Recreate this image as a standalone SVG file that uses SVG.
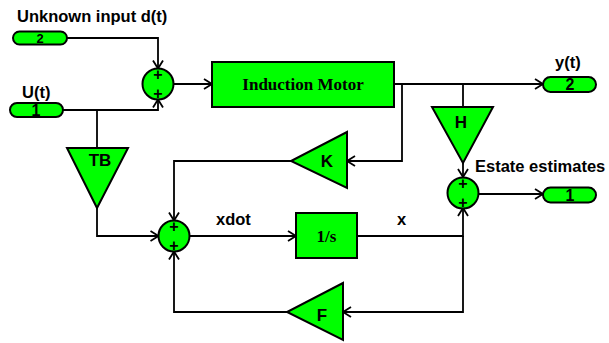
<svg xmlns="http://www.w3.org/2000/svg" width="609" height="343" viewBox="0 0 609 343">
<style>
.blk{fill:#00ff00;stroke:#000;stroke-width:2}
.ln{fill:none;stroke:#000;stroke-width:1.8}
.lbl{font-family:"Liberation Sans",Arial,sans-serif;font-weight:bold;font-size:16.5px;fill:#000}
.tl{font-family:"Liberation Sans",Arial,sans-serif;font-weight:bold;font-size:17px;fill:#000;text-anchor:middle}
.pl{font-family:"Liberation Sans",Arial,sans-serif;font-weight:bold;font-size:16px;fill:#000;text-anchor:middle}
.tm{font-family:"Liberation Serif","Times New Roman",serif;font-weight:bold;font-size:17px;fill:#000;text-anchor:middle}
</style>
<defs>
<marker id="arr" markerUnits="userSpaceOnUse" markerWidth="12" markerHeight="12" viewBox="0 0 12 12" refX="9" refY="6" orient="auto">
<path d="M1,1 L9,6 L1,11" fill="none" stroke="#000" stroke-width="1.8"/>
</marker>
</defs>
<rect width="609" height="343" fill="#fff"/>
<g id="connectors">
<path class="ln" d="M67,38 H158 V68.5" marker-end="url(#arr)"/>
<path class="ln" d="M63,110 H158 V99.5" marker-end="url(#arr)"/>
<path class="ln" d="M97,110 V148"/>
<path class="ln" d="M97,208 V236 H158.5" marker-end="url(#arr)"/>
<path class="ln" d="M173.5,84 H212" marker-end="url(#arr)"/>
<path class="ln" d="M394,84 H543" marker-end="url(#arr)"/>
<path class="ln" d="M402,84 V161 H347" marker-end="url(#arr)"/>
<path class="ln" d="M291,161 H174 V220.5" marker-end="url(#arr)"/>
<path class="ln" d="M463,84 V107"/>
<path class="ln" d="M463,163 V177" marker-end="url(#arr)"/>
<path class="ln" d="M478.5,194 H543" marker-end="url(#arr)"/>
<path class="ln" d="M189.5,236 H296" marker-end="url(#arr)"/>
<path class="ln" d="M357,236 H463 V208" marker-end="url(#arr)"/>
<path class="ln" d="M463,236 V312 H343" marker-end="url(#arr)"/>
<path class="ln" d="M287,312 H174 V251.5" marker-end="url(#arr)"/>
</g>
<g id="in2">
<rect class="blk" x="13" y="31.5" width="54" height="13" rx="6.5"/>
<text class="pl" x="40" y="43" style="font-size:13px">2</text>
</g>
<text class="lbl" x="17" y="22">Unknown input d(t)</text>
<g id="in1">
<rect class="blk" x="10" y="103" width="53" height="14" rx="7"/>
<text class="pl" x="36" y="116" style="font-size:16px">1</text>
</g>
<text class="lbl" x="22" y="98">U(t)</text>
<g id="sum1">
<circle class="blk" cx="158" cy="84" r="15.5"/>
<text class="pl" x="158" y="80">+</text>
<text class="pl" x="158" y="99">+</text>
</g>
<g id="motor">
<rect class="blk" x="212" y="62" width="182" height="45"/>
<text class="tm" x="303" y="90">Induction Motor</text>
</g>
<g id="out2">
<rect class="blk" x="543" y="77" width="53" height="15" rx="7.5"/>
<text class="pl" x="570" y="90">2</text>
</g>
<text class="lbl" x="555" y="68">y(t)</text>
<g id="H">
<polygon class="blk" points="432,107 493,107 463,163"/>
<text class="tl" x="461" y="128">H</text>
</g>
<g id="sum3">
<circle class="blk" cx="463" cy="193" r="15.5"/>
<text class="pl" x="463" y="189">+</text>
<text class="pl" x="463" y="208">+</text>
</g>
<text class="lbl" x="475" y="172">Estate estimates</text>
<g id="out1">
<rect class="blk" x="543" y="187.5" width="53" height="15" rx="7.5"/>
<text class="pl" x="570" y="201">1</text>
</g>
<g id="K">
<polygon class="blk" points="347,132 347,188 291,161"/>
<text class="tl" x="327" y="167">K</text>
</g>
<g id="TB">
<polygon class="blk" points="67,148 128,148 97,208"/>
<text class="tl" x="100" y="166">TB</text>
</g>
<g id="sum2">
<circle class="blk" cx="174" cy="236" r="15.5"/>
<text class="pl" x="174" y="232">+</text>
<text class="pl" x="174" y="251">+</text>
</g>
<text class="lbl" x="216" y="225">xdot</text>
<g id="integrator">
<rect class="blk" x="296" y="213" width="61" height="45"/>
<text class="tm" x="326.5" y="242">1/s</text>
</g>
<text class="lbl" x="397" y="225">x</text>
<g id="F">
<polygon class="blk" points="343,283 343,340 287,312"/>
<text class="tl" x="322" y="321">F</text>
</g>
</svg>
